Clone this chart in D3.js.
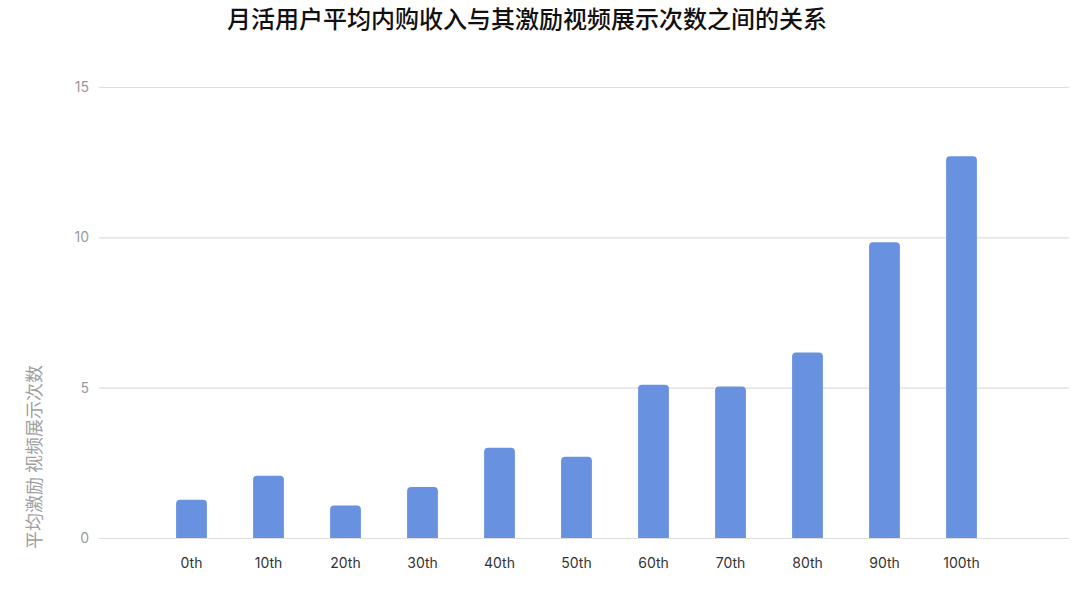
<!DOCTYPE html>
<html>
<head>
<meta charset="utf-8">
<script src="https://cdn.jsdelivr.net/npm/d3@7"></script>
<style>
  body { margin: 0; background: #fff; }
  svg { font-family: "Noto Sans CJK SC", "Noto Sans", sans-serif; }
</style>
</head>
<body>
<script>
// data
const categories = ["0th", "10th", "20th", "30th", "40th", "50th", "60th", "70th", "80th", "90th", "100th"]
const values = [1.27, 2.07, 1.08, 1.7, 3.0, 2.7, 5.1, 5.04, 6.17, 9.84, 12.7]
const yTicks = [0, 5, 10, 15]

const width = 1080, height = 599

let svg = d3.select("body")
    .append("svg")
    .attr("width", width)
    .attr("height", height)

let y = d3.scaleLinear()
    .domain([0, 15])
    .range([538, 87])

let x = d3.scaleBand()
    .domain(categories)
    .range([153, 1000])
    .paddingInner(0.6)
    .paddingOuter(0.3)

// gridlines + y labels
let yAxis = d3.axisLeft(y)
    .tickValues(yTicks)
    .tickSize(-970)
    .tickPadding(10)

svg.append("g")
    .attr("transform", "translate(99, 0)")
    .call(yAxis)
    .call(g => g.select(".domain").remove())
    .call(g => g.selectAll(".tick line").attr("stroke", "#dedede").attr("stroke-width", 1.2))
    .call(g => g.selectAll(".tick text")
        .attr("fill", "#9a9a9a")
        .attr("font-size", 14)
        .attr("font-family", "Inter, 'Noto Sans', sans-serif"))

// bars with rounded tops
const r = 4
svg.append("g")
    .selectAll("path")
    .data(values)
    .enter()
    .append("path")
    .attr("fill", "#6891e0")
    .attr("d", (d, i) => {
        let x0 = x(categories[i]), w = x.bandwidth()
        let y0 = y(0), y1 = y(d)
        return `M${x0},${y0} V${y1 + r} Q${x0},${y1} ${x0 + r},${y1} H${x0 + w - r} Q${x0 + w},${y1} ${x0 + w},${y1 + r} V${y0} Z`
    })

// x labels
let xAxis = d3.axisBottom(x)
    .tickSize(0)
    .tickPadding(20)

svg.append("g")
    .attr("transform", `translate(0, ${y(0)})`)
    .call(xAxis)
    .call(g => g.select(".domain").remove())
    .call(g => g.selectAll(".tick text")
        .attr("fill", "#333")
        .attr("font-size", 14)
        .attr("font-family", "Inter, 'Noto Sans', sans-serif"))

// title
svg.append("text")
    .attr("x", 527)
    .attr("y", 28)
    .attr("text-anchor", "middle")
    .attr("font-size", 24)
    .attr("font-weight", 500)
    .attr("fill", "#111")
    .text("月活用户平均内购收入与其激励视频展示次数之间的关系")

// y axis title
svg.append("text")
    .attr("transform", "translate(41, 457) rotate(-90)")
    .attr("text-anchor", "middle")
    .attr("font-size", 18)
    .attr("fill", "#a0a0a0")
    .text("平均激励 视频展示次数")
</script>
</body>
</html>
